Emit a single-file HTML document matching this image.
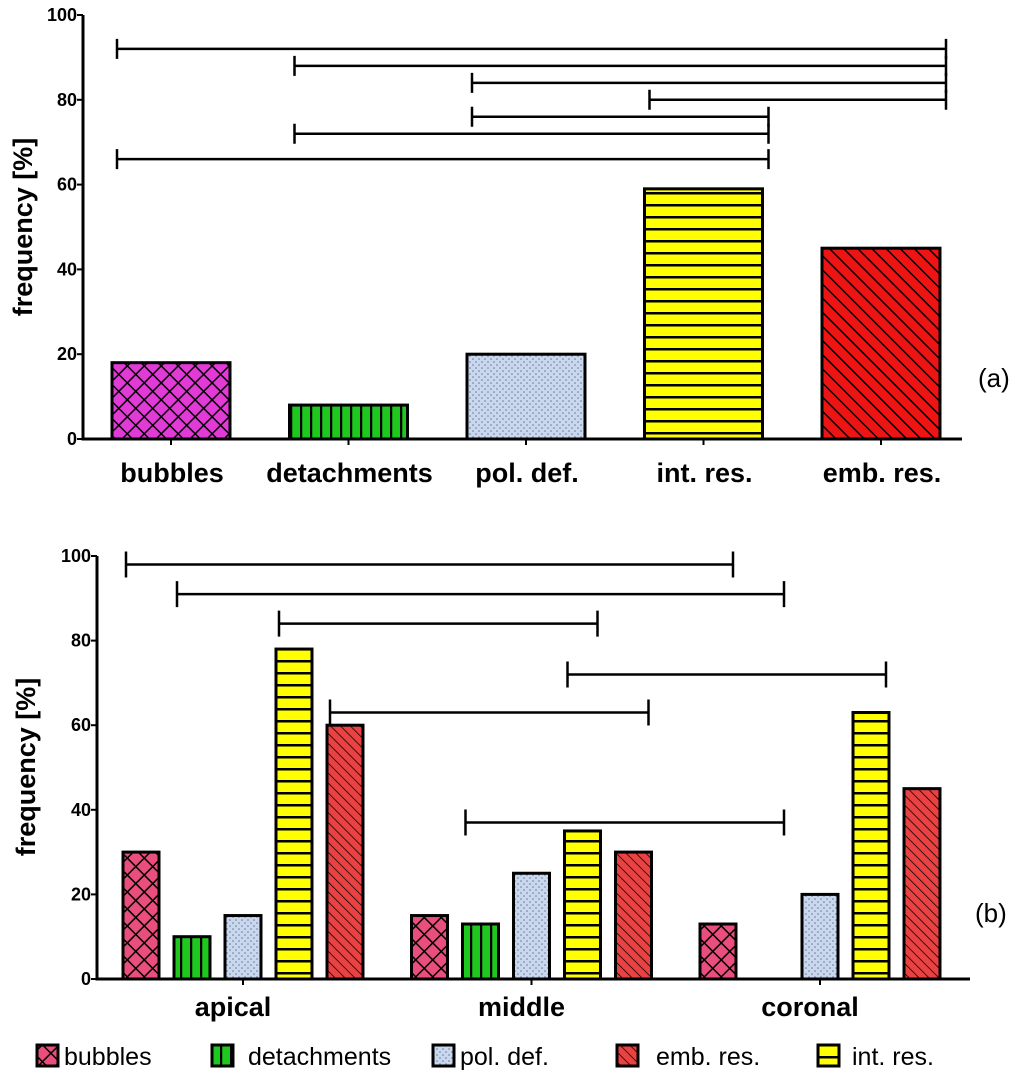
<!DOCTYPE html>
<html><head><meta charset="utf-8"><style>
html,body{margin:0;padding:0;background:#fff;}
svg{display:block;font-family:"Liberation Sans",Arial,sans-serif;}
</style></head><body>
<svg id="fig" width="1024" height="1078" viewBox="0 0 1024 1078">
<defs>
 <pattern id="pBubA" width="12" height="12" patternUnits="userSpaceOnUse" patternTransform="rotate(45)">
  <rect width="12" height="12" fill="#e23ad6"/><path d="M0 0H12M0 0V12" stroke="#000" stroke-width="3"/></pattern>
 <pattern id="pBubB" width="12" height="12" patternUnits="userSpaceOnUse" patternTransform="rotate(45)">
  <rect width="12" height="12" fill="#ea4e7c"/><path d="M0 0H12M0 0V12" stroke="#000" stroke-width="3"/></pattern>
 <pattern id="pDet" width="10" height="10" patternUnits="userSpaceOnUse">
  <rect width="10" height="10" fill="#1ec81e"/><path d="M1 0V10" stroke="#000" stroke-width="2.5"/></pattern>
 <pattern id="pPol" width="6" height="6" patternUnits="userSpaceOnUse">
  <rect width="6" height="6" fill="#c9d8ef"/><circle cx="2" cy="2" r="0.8" fill="#6a7890"/><circle cx="5" cy="5" r="0.8" fill="#6a7890"/></pattern>
 <pattern id="pInt" width="10" height="12" patternUnits="userSpaceOnUse">
  <rect width="10" height="12" fill="#ffff00"/><path d="M0 1H10" stroke="#000" stroke-width="3"/></pattern>
 <pattern id="pEmbA" width="10" height="10" patternUnits="userSpaceOnUse" patternTransform="rotate(-45)">
  <rect width="10" height="10" fill="#ee1414"/><path d="M0 0V10" stroke="#000" stroke-width="3"/></pattern>
 <pattern id="pEmbB" width="7" height="7" patternUnits="userSpaceOnUse" patternTransform="rotate(-45)">
  <rect width="7" height="7" fill="#ea4242"/><path d="M0 0V7" stroke="#000" stroke-width="1.5"/></pattern>
</defs>
<g id="chartA"></g>
<g id="chartB"></g>
<g id="legend"></g>
</svg>
<script>
// ---- Chart (a) data ----
const catsA = ["bubbles","detachments","pol. def.","int. res.","emb. res."];
const valsA = [18, 8, 20, 59, 45];
const fillsA = ["pBubA","pDet","pPol","pInt","pEmbA"];
const ticksA = [0,20,40,60,80,100];
const bracketLevelsA = [92, 88, 84, 80, 76, 72, 66];
const bracketLeftA = [0, 1, 2, 3, 2, 1, 0];
const bracketRightA = [4, 4, 4, 4, 3, 3, 3];

// ---- Chart (b) data ----
const groupsB = ["apical","middle","coronal"];
const seriesB = ["bubbles","detachments","pol. def.","int. res.","emb. res."];
const bubblesB = [30, 15, 13];
const detachB = [10, 13, 0];
const polB = [15, 25, 20];
const intB = [78, 35, 63];
const embB = [60, 30, 45];
const ticksB = [0,20,40,60,80,100];
const bracketLevelsB = [98, 91, 84, 72, 63, 37];
const bracketLeftGB = [0, 0, 0, 1, 0, 1];
const bracketLeftSB = [0, 1, 3, 3, 4, 1];
const bracketRightGB = [2, 2, 1, 2, 1, 2];
const bracketRightSB = [0, 1, 3, 3, 4, 1];

const legendLabels = ["bubbles","detachments","pol. def.","emb. res.","int. res."];
const legendFills = ["pBubB","pDet","pPol","pEmbB","pInt"];

const NS = "http://www.w3.org/2000/svg";
function mk(parent, tag, attrs, text){
  const e = document.createElementNS(NS, tag);
  for (const k in attrs) e.setAttribute(k, attrs[k]);
  if (text !== undefined) e.textContent = text;
  parent.appendChild(e);
  return e;
}

// ===== Chart A =====
(function(){
  const g = document.getElementById("chartA");
  const x0 = 83, y0 = 439, yTop = 15, xEnd = 962;
  const yA = v => y0 - (y0 - yTop) * v / 100;
  const xc = i => 171 + i * 177.5;
  const bw = 118;
  valsA.forEach((v,i)=>{
    const r = mk(g,"rect",{x:xc(i)-bw/2, y:yA(v), width:bw, height:y0-yA(v), fill:"url(#"+fillsA[i]+")", stroke:"#000","stroke-width":3});
    
    
  });
  const ax = mk(g,"path",{d:`M${x0} ${yTop}V${y0}H${xEnd}`, stroke:"#000","stroke-width":3, fill:"none"});
  
  
  ticksA.forEach(t=>{
    mk(g,"line",{x1:x0-6,x2:x0,y1:yA(t),y2:yA(t),stroke:"#000","stroke-width":2});
    const tl = mk(g,"text",{x:x0-6,y:yA(t)+6,"text-anchor":"end","font-size":18,"font-weight":"bold"},t);
    
    
  });
  catsA.forEach((c,i)=>{
    mk(g,"line",{x1:xc(i),x2:xc(i),y1:y0,y2:y0+6,stroke:"#000","stroke-width":2});
    const t = mk(g,"text",{x:xc(i)+1,y:482,"text-anchor":"middle","font-size":27,"font-weight":"bold"},c);
    
    
  });
  const yt = mk(g,"text",{x:0,y:0,transform:"translate(32 227) rotate(-90)","text-anchor":"middle","font-size":27,"font-weight":"bold"},"frequency [%]");
  
  
  const pl = mk(g,"text",{x:978,y:387,"font-size":26},"(a)");
  
  
  bracketLevelsA.forEach((lv,k)=>{
    const y = yA(lv);
    const xl = xc(bracketLeftA[k]) - bw/2 + 5;
    const xr = xc(bracketRightA[k]) + bw/2 + 6;
    const b = mk(g,"path",{d:`M${xl} ${y-10}V${y+10}M${xl} ${y}H${xr}M${xr} ${y-10}V${y+10}`,stroke:"#000","stroke-width":2.5,fill:"none"});
    
    
  });
})();

// ===== Chart B =====
(function(){
  const g = document.getElementById("chartB");
  const x0 = 97, y0 = 979, yTop = 556, xEnd = 970;
  const yB = v => y0 - (y0 - yTop) * v / 100;
  const gc = i => 243 + i * 288.5;
  const pitch = 51, bw = 36;
  const bx = (gi, si) => gc(gi) + (si - 2) * pitch;
  const series = [bubblesB, detachB, polB, intB, embB];
  const fills = ["pBubB","pDet","pPol","pInt","pEmbB"];
  groupsB.forEach((gn,gi)=>{
    series.forEach((arr,si)=>{
      const v = arr[gi];
      if (v <= 0) return;
      const r = mk(g,"rect",{x:bx(gi,si)-bw/2, y:yB(v), width:bw, height:y0-yB(v), fill:"url(#"+fills[si]+")", stroke:"#000","stroke-width":3});
      
      
    });
  });
  const ax = mk(g,"path",{d:`M${x0} ${yTop}V${y0}H${xEnd}`, stroke:"#000","stroke-width":3, fill:"none"});
  
  
  ticksB.forEach(t=>{
    mk(g,"line",{x1:x0-6,x2:x0,y1:yB(t),y2:yB(t),stroke:"#000","stroke-width":2});
    const tl = mk(g,"text",{x:x0-6,y:yB(t)+6,"text-anchor":"end","font-size":18,"font-weight":"bold"},t);
    
    
  });
  groupsB.forEach((c,i)=>{
    mk(g,"line",{x1:gc(i),x2:gc(i),y1:y0,y2:y0+6,stroke:"#000","stroke-width":2});
    const t = mk(g,"text",{x:gc(i)-10,y:1016,"text-anchor":"middle","font-size":27,"font-weight":"bold"},c);
    
    
  });
  const yt = mk(g,"text",{x:0,y:0,transform:"translate(35 767) rotate(-90)","text-anchor":"middle","font-size":27,"font-weight":"bold"},"frequency [%]");
  
  
  const pl = mk(g,"text",{x:975,y:922,"font-size":26},"(b)");
  
  
  bracketLevelsB.forEach((lv,k)=>{
    const y = yB(lv);
    const xl = bx(bracketLeftGB[k], bracketLeftSB[k]) - bw/2 + 3;
    const xr = bx(bracketRightGB[k], bracketRightSB[k]) + bw/2 - 3;
    const b = mk(g,"path",{d:`M${xl} ${y-13}V${y+13}M${xl} ${y}H${xr}M${xr} ${y-13}V${y+13}`,stroke:"#000","stroke-width":2.5,fill:"none"});
    
    
  });
})();

// ===== Legend =====
(function(){
  const g = document.getElementById("legend");
  const sqX = [37, 212, 433, 617, 818];
  const txX = [64, 248, 460, 656, 852];
  legendLabels.forEach((lab,i)=>{
    const r = mk(g,"rect",{x:sqX[i], y:1045, width:21, height:21, fill:"url(#"+legendFills[i]+")", stroke:"#000","stroke-width":3});
    
    
    const t = mk(g,"text",{x:txX[i], y:1065, "font-size":25},lab);
    
    
  });
})();
</script>
</body></html>
